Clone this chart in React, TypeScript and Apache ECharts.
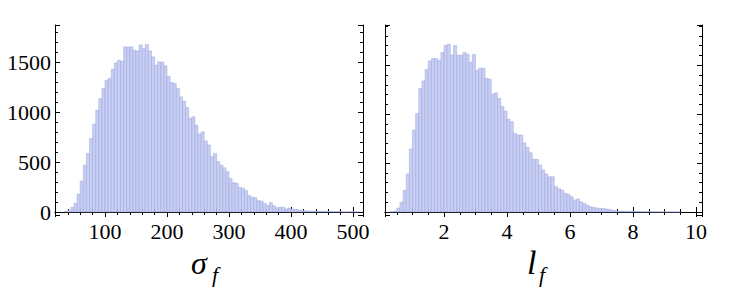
import React, { useEffect, useRef } from "react";
import * as echarts from "echarts";

// sigma_f histogram: bins of width 5 starting at 35
const SIGMA_BIN_START = 35;
const SIGMA_BIN_WIDTH = 5;
const sigmaCounts = [
  5, 17, 47, 87, 180, 310, 470, 588, 738, 882, 1022, 1139, 1239, 1323, 1340, 1433, 1496, 1523, 1513,
  1657, 1657, 1657, 1624, 1617, 1677, 1640, 1680, 1617, 1557, 1473, 1507, 1503, 1467, 1363, 1300,
  1290, 1240, 1156, 1113, 1049, 939, 956, 872, 782, 805, 715, 672, 555, 588, 505, 471, 444, 404, 337,
  294, 287, 247, 237, 214, 164, 147, 144, 114, 110, 87, 67, 94, 63, 43, 47, 47, 30, 40, 30, 27, 20,
  17, 13, 10, 10, 10, 9, 8, 8, 7, 8, 6, 5, 3, 2, 1, 2, 2, 2, 2,
];

// l_f histogram: bins of width 0.1 starting at 0.3
const L_BIN_START = 0.3;
const L_BIN_WIDTH = 0.1;
const lCounts = [
  3, 10, 40, 99, 221, 388, 643, 837, 1007, 1262, 1340, 1456, 1544, 1568, 1568, 1548, 1629, 1701, 1714,
  1602, 1701, 1602, 1602, 1629, 1612, 1531, 1609, 1449, 1469, 1469, 1367, 1357, 1204, 1218, 1160,
  1078, 1031, 949, 922, 803, 786, 786, 707, 660, 605, 537, 537, 480, 429, 388, 360, 360, 259, 238,
  224, 190, 180, 156, 122, 133, 105, 88, 71, 54, 48, 41, 37, 37, 31, 27, 20, 14, 10, 10, 9, 8, 7, 6,
  5, 4, 4, 3, 3, 2, 2, 2, 1, 1, 1, 1, 1, 1,
];

// plot ranges
const sigmaRange = [19.35, 516.1];
const lRange = [0.127, 10.19];
const countRangeLeft = [-30, 1877];
const countRangeRight = [-30.6, 1911];

const xTitles = ["σ", "l"];
const subTitle = "f";

function toBins(start: number, width: number, counts: number[]) {
  return counts.map((c, i) => [start + i * width, start + (i + 1) * width, c]);
}

const FONT = "Liberation Serif";

function xAxisDef(grid: number, range: number[], minorSplit: number, top: boolean) {
  return {
    type: "value",
    gridIndex: grid,
    min: range[0],
    max: range[1],
    splitNumber: 5,
    position: top ? "top" : "bottom",
    axisLine: { show: true, lineStyle: { color: "#000", width: 1 } },
    axisTick: { show: true, inside: true, length: 5, lineStyle: { color: "#000" } },
    minorTick: { show: true, splitNumber: minorSplit, length: 3, lineStyle: { color: "#000" } },
    splitLine: { show: false },
    minorSplitLine: { show: false },
    axisLabel: {
      show: !top,
      showMinLabel: false,
      showMaxLabel: false,
      color: "#000",
      fontFamily: FONT,
      fontSize: 22,
      margin: 5,
      formatter: (v: number) => String(v),
    },
  };
}

function yAxisDef(grid: number, range: number[], right: boolean, labels: boolean) {
  return {
    type: "value",
    gridIndex: grid,
    min: range[0],
    max: range[1],
    splitNumber: 4,
    position: right ? "right" : "left",
    axisLine: { show: true, lineStyle: { color: "#000", width: 1 } },
    axisTick: { show: true, inside: true, length: 5, lineStyle: { color: "#000" } },
    minorTick: { show: true, splitNumber: 5, length: 3, lineStyle: { color: "#000" } },
    splitLine: { show: false },
    minorSplitLine: { show: false },
    axisLabel: {
      show: labels,
      showMinLabel: false,
      showMaxLabel: false,
      color: "#000",
      fontFamily: FONT,
      fontSize: 22,
      margin: 4,
      formatter: (v: number) => String(v),
    },
  };
}

function renderBar(params: any, api: any) {
  const p0 = api.coord([api.value(0), api.value(2)]);
  const p1 = api.coord([api.value(1), 0]);
  return {
    type: "rect",
    shape: { x: p0[0], y: p0[1], width: p1[0] - p0[0], height: p1[1] - p0[1] },
    style: { fill: "rgb(200,207,245)", stroke: "rgba(150,158,212,0.75)", lineWidth: 0.6 },
  };
}

export default function App() {
  const ref = useRef<HTMLDivElement>(null);
  useEffect(() => {
    if (!ref.current) return;
    const chart = echarts.init(ref.current, null, { renderer: "svg" });
    const titleStyle = (text: string, size: number) => ({
      text,
      fontFamily: FONT,
      fontStyle: "italic",
      fontSize: size,
      fill: "#000",
      verticalAlign: "middle",
      align: "left",
    });
    chart.setOption({
      animation: false,
      backgroundColor: "#fff",
      grid: [
        { left: 55, top: 25, width: 308, height: 190 },
        { left: 385, top: 25, width: 317, height: 190 },
      ],
      xAxis: [
        xAxisDef(0, sigmaRange, 5, false),
        xAxisDef(0, sigmaRange, 5, true),
        xAxisDef(1, lRange, 4, false),
        xAxisDef(1, lRange, 4, true),
      ],
      yAxis: [
        yAxisDef(0, countRangeLeft, false, true),
        yAxisDef(0, countRangeLeft, true, false),
        yAxisDef(1, countRangeRight, false, false),
        yAxisDef(1, countRangeRight, true, false),
      ],
      series: [
        {
          type: "custom",
          xAxisIndex: 0,
          yAxisIndex: 0,
          clip: true,
          renderItem: renderBar,
          data: toBins(SIGMA_BIN_START, SIGMA_BIN_WIDTH, sigmaCounts),
        },
        {
          type: "custom",
          xAxisIndex: 2,
          yAxisIndex: 2,
          clip: true,
          renderItem: renderBar,
          data: toBins(L_BIN_START, L_BIN_WIDTH, lCounts),
        },
      ],
      graphic: [
        { type: "text", x: 191, y: 263, style: titleStyle(xTitles[0], 32) },
        { type: "text", x: 212, y: 274, style: titleStyle(subTitle, 22) },
        { type: "text", x: 527, y: 262, style: titleStyle(xTitles[1], 34) },
        { type: "text", x: 539, y: 274, style: titleStyle(subTitle, 22) },
      ],
    });
    return () => chart.dispose();
  }, []);
  return (
    <div
      ref={ref}
      style={{ position: "fixed", left: 0, top: 0, width: 732, height: 292, background: "#fff" }}
    />
  );
}
